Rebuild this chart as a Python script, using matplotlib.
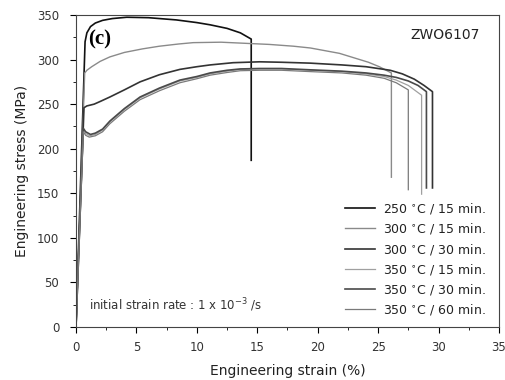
import numpy as np
import matplotlib
matplotlib.use('Agg')
import matplotlib.pyplot as plt
from matplotlib.ticker import MultipleLocator

# strain (%) / stress (MPa)
labels = ['250 $^{\\circ}$C / 15 min.', '300 $^{\\circ}$C / 15 min.', '300 $^{\\circ}$C / 30 min.',
          '350 $^{\\circ}$C / 15 min.', '350 $^{\\circ}$C / 30 min.', '350 $^{\\circ}$C / 60 min.']

strain_250_15 = [0, 0.75, 0.9, 1.2, 1.6, 2.2, 3.0, 4.2, 6.0, 8.3, 10.0, 11.1, 12.5, 13.6, 14.5, 14.5]
stress_250_15 = [0, 320, 330, 337, 341, 344, 346, 347.5, 347, 344.5, 341.5, 339, 335, 330, 323, 187]

strain_300_15 = [0, 0.72, 0.9, 1.3, 2.0, 2.8, 4.0, 5.5, 6.9, 8.5, 9.7, 12.0, 13.6, 16.0, 18.0, 19.4,
                 21.0, 21.8, 23.0, 24.2, 25.1, 26.1, 26.1]
stress_300_15 = [0, 285, 288, 292, 298, 303, 308, 312, 315, 317.5, 319, 319.5, 318.5, 317, 315, 313,
                 309, 307, 302, 297, 292, 285, 168]

strain_300_30 = [0, 0.66, 0.9, 1.5, 2.0, 2.8, 4.0, 5.3, 6.9, 8.6, 10.0, 11.1, 13.0, 15.2, 17.0, 19.4,
                 22.0, 24.0, 26.0, 27.0, 28.0, 28.8, 29.5, 29.5]
stress_300_30 = [0, 246, 248, 250, 253, 258, 266, 275, 283, 289, 292, 294, 296.5, 297.5, 297, 296,
                 294, 292, 288, 284, 278, 271, 264, 156]

strain_350_15 = [0, 0.6, 0.8, 1.15, 1.6, 2.2, 2.8, 4.0, 5.3, 6.9, 8.6, 10.0, 11.1, 12.5, 13.6, 15.2,
                 17.0, 19.4, 22.0, 24.0, 25.5, 26.5, 27.5, 28.6, 28.6]
stress_350_15 = [0, 221, 217, 214.5, 216, 221, 230, 244, 257, 267, 276, 280, 284, 287, 289, 289.5,
                 289.5, 288, 286.5, 284, 281, 277, 271, 260, 149]

strain_350_30 = [0, 0.6, 0.8, 1.2, 1.6, 2.2, 2.8, 4.0, 5.3, 6.9, 8.6, 10.0, 11.1, 12.5, 13.6, 15.2,
                 17.0, 19.4, 22.0, 24.0, 25.5, 26.5, 27.5, 28.3, 29.0, 29.0]
stress_350_30 = [0, 223, 219, 216, 217.5, 222, 231, 245, 258, 268, 277, 281, 285, 288, 289.5, 290,
                 290, 288.5, 287, 285, 282.5, 280, 276, 271, 264, 156]

strain_350_60 = [0, 0.6, 0.8, 1.1, 1.6, 2.2, 2.8, 4.0, 5.3, 6.9, 8.6, 10.0, 11.1, 12.5, 13.6, 15.2,
                 17.0, 19.4, 22.0, 24.0, 25.5, 26.5, 27.5, 27.5]
stress_350_60 = [0, 219, 215, 213, 214.5, 219, 228, 242, 255, 265, 274, 278.5, 282.5, 285.5, 287.5, 288,
                 288, 286.5, 285, 282.5, 279, 274, 266, 154]

strains = [strain_250_15, strain_300_15, strain_300_30, strain_350_15, strain_350_30, strain_350_60]
stresses = [stress_250_15, stress_300_15, stress_300_30, stress_350_15, stress_350_30, stress_350_60]
colors = ['#111111', '#8a8a8a', '#333333', '#a0a0a0', '#4a4a4a', '#7a7a7a']
widths = [1.2, 1.0, 1.2, 0.9, 1.2, 0.9]

fig = plt.figure(figsize=(5.05, 3.8), dpi=100)
ax = fig.add_axes([0.1505, 0.1395, 0.8375, 0.821])

for x, y, c, w, lab in zip(strains, stresses, colors, widths, labels):
    ax.plot(x, y, color=c, lw=w, label=lab)

ax.set_xlim(0, 35)
ax.set_ylim(0, 350)
ax.xaxis.set_major_locator(MultipleLocator(5))
ax.xaxis.set_minor_locator(MultipleLocator(2.5))
ax.yaxis.set_major_locator(MultipleLocator(50))
ax.yaxis.set_minor_locator(MultipleLocator(25))
ax.tick_params(which='major', direction='out', length=4, labelsize=8.5, labelcolor='#333333')
ax.tick_params(which='minor', direction='out', length=2)
ax.tick_params(axis='y', which='major', pad=8)
ax.tick_params(axis='x', which='major', pad=6)
for s in ax.spines.values():
    s.set_color('#444444')

ax.set_xlabel('Engineering strain (%)', fontsize=10, color='#222222', labelpad=7)
ax.set_ylabel('Engineering stress (MPa)', fontsize=10, color='#222222', labelpad=6)

ax.text(1.0, 322, '(c)', fontsize=15, fontweight='bold', family='Liberation Serif', va='center')
ax.text(33.4, 328, 'ZWO6107', fontsize=10, ha='right', va='center', color='#222222')
ax.text(1.05, 25, 'initial strain rate : 1 x 10$^{-3}$ /s', fontsize=8.5, va='center', color='#333333')

ax.legend(loc='lower right', frameon=False, fontsize=9, handlelength=2.4, handletextpad=0.6,
          labelspacing=0.42, bbox_to_anchor=(0.995, -0.005), labelcolor='#222222')

fig.savefig('out.png', dpi=100)
